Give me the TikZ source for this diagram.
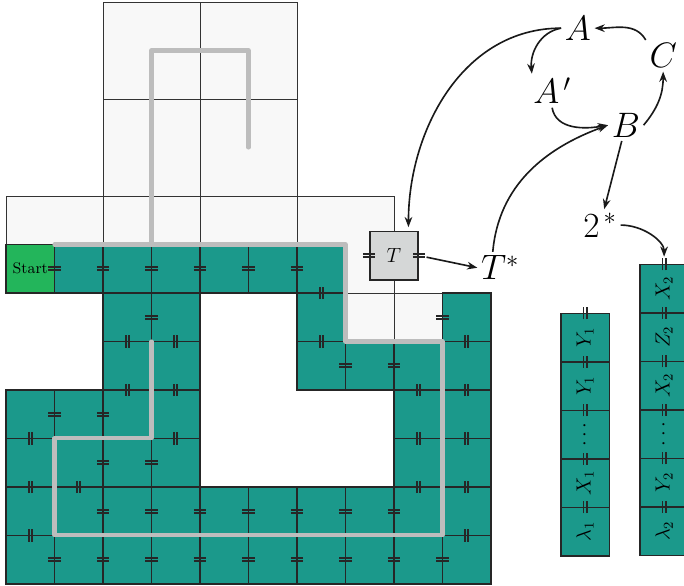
\documentclass[tikz,border=0pt]{standalone}
\usepackage{tikz}
\usepackage{graphicx}
\usetikzlibrary{arrows.meta,positioning,calc}

\definecolor{tealtile}{RGB}{27,153,139}
\definecolor{starttile}{RGB}{35,181,91}
\definecolor{ghostfill}{RGB}{248,248,248}
\definecolor{routegray}{RGB}{189,189,189}
\definecolor{boxgray}{RGB}{213,215,215}

\begin{document}
\begin{tikzpicture}[
        node distance=0pt,
        tile/.style={draw=black!85, line width=0.95pt, fill=tealtile},
        ghost/.style={draw=black!80, line width=0.5pt, fill=ghostfill},
        route/.style={draw=routegray, line width=2.4pt, line cap=round, line join=round},
        glue/.style={draw=black!85, line width=1.05pt},
        hbond/.pic={\draw[glue] (-0.125,0.032) -- (0.125,0.032) (-0.125,-0.032) -- (0.125,-0.032);},
        vbond/.pic={\draw[glue] (0.032,-0.125) -- (0.032,0.125) (-0.032,-0.125) -- (-0.032,0.125);},
        cell/.style={rectangle, tile, minimum size=1cm, inner sep=0pt, outer sep=0pt, font=\large},
        tbox/.style={rectangle, draw=black!85, line width=0.95pt, fill=boxgray,
            minimum size=1cm, inner sep=0pt, font=\large},
        sym/.style={font=\huge, inner sep=2pt},
        arr/.style={-{Stealth[length=6pt,width=4.5pt]}, line width=0.95pt, draw=black!90}
    ]
    \useasboundingbox (-0.124,-0.041) rectangle (13.98,12.041);

    % ghost tiles
    \foreach \x/\y in {2/10,4/10,2/8,4/8,0/6,2/6,4/6,6/6}
        \draw[ghost] (\x,\y) rectangle ++(2,2);
    \foreach \x in {7,8}
        \draw[ghost] (\x,5) rectangle ++(1,1);

    % assembled tiles
    \foreach \y/\xs in {6/{1,2,3,4,5,6}, 5/{2,3,6,9}, 4/{2,3,6,7,8,9}, 3/{0,1,2,3,8,9},
                        2/{0,1,2,3,8,9}, 1/{0,...,9}, 0/{0,...,9}}
        \foreach \x in \xs
            \draw[tile] (\x,\y) rectangle ++(1,1);
    \node[cell, fill=starttile, font=\small] (start) at (0.5,6.5) {Start};

    % growth paths
    \draw[route] (1,7) -- (7,7) -- (7,5) -- (9,5) -- (9,1) -- (1,1) -- (1,3) -- (3,3) -- (3,5);
    \draw[route] (3,7) -- (3,11) -- (5,11) -- (5,9);

    % glues
    \foreach \y/\xs in {6/{1,...,6}, 5/{3,9}, 4/{7,8}, 3/{1,2}, 2/{2,3}, 1/{2,...,8}, 0/{1,...,9}}
        \foreach \x in \xs
            \pic at (\x,\y+0.5) {hbond};
    \foreach \y/\xs in {6/{6.5}, 5/{2.5,3.5,6.5,9.5}, 4/{2.5,3.5,8.5,9.5}, 3/{0.5,3.5,8.5,9.5},
                        2/{0.5,1.5,8.5,9.5}, 1/{0.5,9.5}}
        \foreach \x in \xs
            \pic at (\x,\y) {vbond};

    \node[tbox] (tbox) at (8,6.77) {$T$};
    \pic at (tbox.west) {hbond};
    \pic at (tbox.east) {hbond};

    \node[sym] (A) at (11.79,11.46) {$A$};
    \node[sym] (Ap) at (11.26,10.17) {$A^{\,\prime}$};
    \node[sym] (C) at (13.55,10.89) {$C$};
    \node[sym] (B) at (12.78,9.46) {$B$};
    \node[sym] (two) at (12.25,7.40) {$2^{\,*}$};
    \node[sym] (Ts) at (10.19,6.52) {$T^{*}$};

    % strands
    \node[cell] (l1) at (11.94,5.08) {\rotatebox{90}{$Y_1$}};
    \node[cell, below=of l1] (l2) {\rotatebox{90}{$Y_1$}};
    \node[cell, below=of l2] (l3) {\rotatebox{90}{$\cdots$}};
    \node[cell, below=of l3] (l4) {\rotatebox{90}{$X_1$}};
    \node[cell, below=of l4] (l5) {\rotatebox{90}{$\lambda_1$}};
    \node[cell] (r1) at (13.57,6.09) {\rotatebox{90}{$X_2$}};
    \node[cell, below=of r1] (r2) {\rotatebox{90}{$Z_2$}};
    \node[cell, below=of r2] (r3) {\rotatebox{90}{$X_2$}};
    \node[cell, below=of r3] (r4) {\rotatebox{90}{$\cdots$}};
    \node[cell, below=of r4] (r5) {\rotatebox{90}{$Y_2$}};
    \node[cell, below=of r5] (r6) {\rotatebox{90}{$\lambda_2$}};
    \foreach \n in {l1,l2,l3,l4,l5,r1,r2,r3,r4,r5,r6}
        \pic at (\n.north) {vbond};

    \draw[arr, shorten >=2pt] (A.west) to[out=180, in=90] (tbox.60);
    \draw[arr] (A.west) to[out=190, in=95] (Ap.140);
    \draw[arr] (Ap.south) to[out=-80, in=190] (B.west);
    \draw[arr] (B.east) to[out=50, in=-90] (C.south);
    \draw[arr] (C.north west) to[out=120, in=0] (A.east);
    \draw[arr] (Ts.115) to[out=85, in=200] (B.west);
    \draw[arr] (B) -- (two);
    \draw[arr, shorten >=4.5pt] (two.east) to[out=0, in=90] (r1.north);
    \draw[arr, shorten <=4.5pt] (tbox.east) -- (Ts.west);
\end{tikzpicture}
\end{document}
